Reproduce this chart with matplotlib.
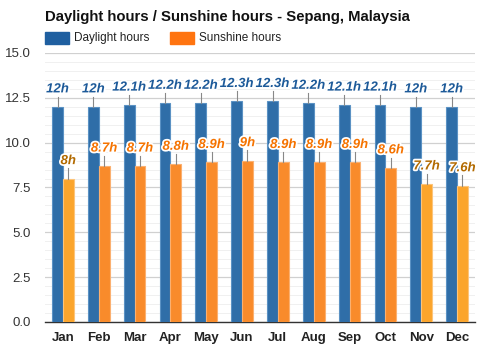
import matplotlib
matplotlib.use("Agg")
import matplotlib.pyplot as plt
import matplotlib.patheffects as pe
import numpy as np
from matplotlib.patches import Rectangle

plt.rcParams["font.family"] = ["Liberation Sans", "DejaVu Sans"]

months = ["Jan", "Feb", "Mar", "Apr", "May", "Jun", "Jul", "Aug", "Sep", "Oct", "Nov", "Dec"]
daylight = [12.0, 12.0, 12.1, 12.2, 12.2, 12.3, 12.3, 12.2, 12.1, 12.1, 12.0, 12.0]
sunshine = [8.0, 8.7, 8.7, 8.8, 8.9, 9.0, 8.9, 8.9, 8.9, 8.6, 7.7, 7.6]
daylight_labels = ["12h", "12h", "12.1h", "12.2h", "12.2h", "12.3h", "12.3h", "12.2h", "12.1h", "12.1h", "12h", "12h"]
sunshine_labels = ["8h", "8.7h", "8.7h", "8.8h", "8.9h", "9h", "8.9h", "8.9h", "8.9h", "8.6h", "7.7h", "7.6h"]
yticks = [0.0, 2.5, 5.0, 7.5, 10.0, 12.5, 15.0]

fig = plt.figure(figsize=(5, 3.5), dpi=100)
fig.patch.set_facecolor("white")
ax = fig.add_axes([0.09, 0.08, 0.86, 0.7686])

x = np.arange(len(months))
w = 0.3
blue = "#2f6ea8"
blue_edge = "#5b92c4"
orange = "#f98b2b"
orange_edge = "#fbb070"
yellow = "#fba52c"
yellow_edge = "#fcc47a"

sun_colors = [yellow if v < 8.5 else orange for v in sunshine]
sun_edges = [yellow_edge if v < 8.5 else orange_edge for v in sunshine]
sun_text = ["#b26a00" if v < 8.5 else "#f57300" for v in sunshine]

ax.bar(x - w / 2, daylight, width=w, color=blue, edgecolor=blue_edge, linewidth=0.8, zorder=3)
ax.bar(x + w / 2, sunshine, width=w, color=sun_colors, edgecolor=sun_edges, linewidth=0.8, zorder=3)

off = 0.97
stroke = [pe.withStroke(linewidth=2.5, foreground="white")]
for i in range(len(months)):
    ax.plot([x[i] - w / 2] * 2, [daylight[i], daylight[i] + off - 0.4], color="#888888", lw=0.8, zorder=4)
    ax.text(x[i] - w / 2, daylight[i] + off, daylight_labels[i], ha="center", va="center",
            fontsize=9.5, fontweight="bold", fontstyle="italic", color="#1d5a99",
            path_effects=stroke, zorder=5)
    ax.plot([x[i] + w / 2] * 2, [sunshine[i], sunshine[i] + off - 0.4], color="#888888", lw=0.8, zorder=4)
    ax.text(x[i] + w / 2, sunshine[i] + off, sunshine_labels[i], ha="center", va="center",
            fontsize=9.5, fontweight="bold", fontstyle="italic", color=sun_text[i],
            path_effects=stroke, zorder=5)

ax.set_xlim(-0.5, len(months) - 0.5)
ax.set_ylim(0, 15)
ax.set_yticks(yticks)
ax.set_yticklabels([f"{v:.1f}" for v in yticks])
ax.set_yticks(np.arange(0, 15.01, 0.5), minor=True)
ax.grid(axis="y", which="major", color="#d0d0d0", lw=0.9, zorder=0)
ax.grid(axis="y", which="minor", color="#f0f0f0", lw=0.7, zorder=0)
ax.set_xticks(x)
ax.set_xticklabels(months, fontweight="bold", fontsize=9.5, color="#222222")
ax.tick_params(axis="x", length=0, pad=7)
ax.tick_params(axis="y", which="both", length=0, labelsize=9.5, labelcolor="#333333", pad=10)
for s in ["top", "right", "left"]:
    ax.spines[s].set_visible(False)
ax.spines["bottom"].set_color("#333333")
ax.spines["bottom"].set_linewidth(1.0)
ax.set_facecolor("white")

fig.text(0.09, 0.952, "Daylight hours / Sunshine hours - Sepang, Malaysia", fontsize=10.7,
         fontweight="bold", ha="left", va="center", color="#111111")
fig.patches.append(Rectangle((45 / 500, 1 - 44 / 350), 24 / 500, 12 / 350, transform=fig.transFigure,
                             color="#1f5fa0", figure=fig))
fig.text(74 / 500, 1 - 38 / 350, "Daylight hours", fontsize=8.5, ha="left", va="center", color="#222222")
fig.patches.append(Rectangle((170 / 500, 1 - 44 / 350), 24 / 500, 12 / 350, transform=fig.transFigure,
                             color="#ff7410", figure=fig))
fig.text(199 / 500, 1 - 38 / 350, "Sunshine hours", fontsize=8.5, ha="left", va="center", color="#222222")

fig.savefig("out.png", dpi=100, facecolor="white")
